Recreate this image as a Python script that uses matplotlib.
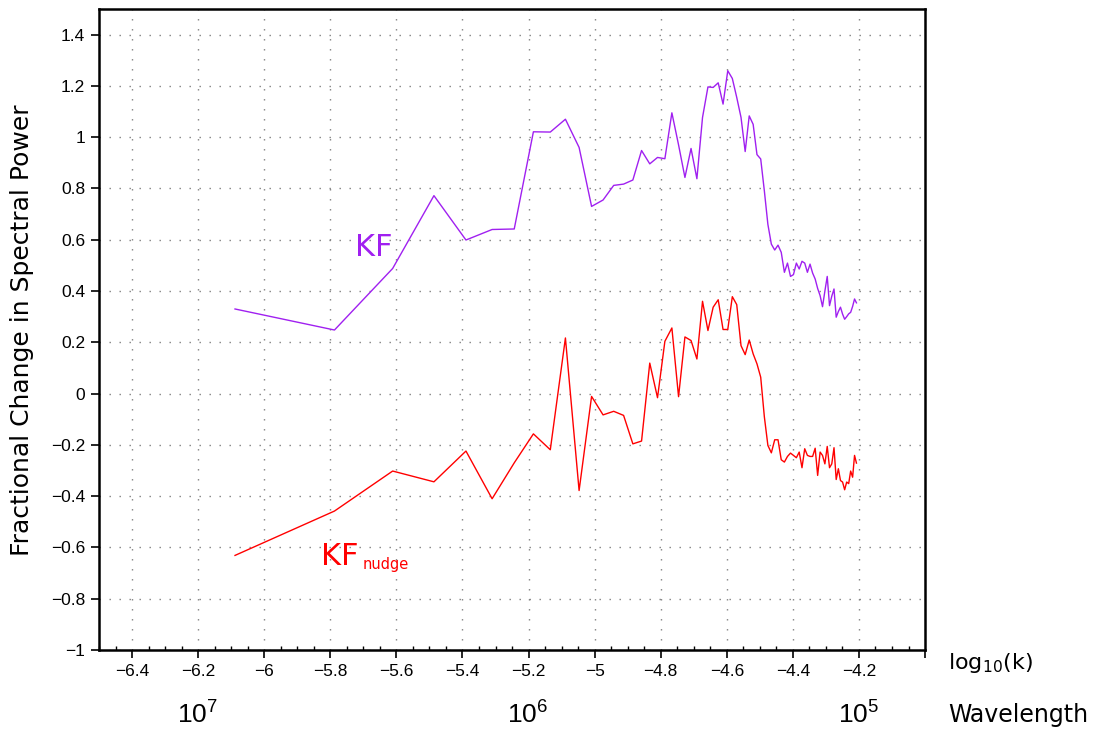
import numpy as np
import matplotlib
matplotlib.use("Agg")
import matplotlib.pyplot as plt
from matplotlib.ticker import MultipleLocator, FuncFormatter
import matplotlib.transforms as mtransforms

plt.rcParams['mathtext.default'] = 'regular'

# wavenumber index and log10 of the fundamental wavenumber (rad/m)
n = np.arange(1, 77)
logk1 = -6.0884
logk = logk1 + np.log10(n)

# fractional change in spectral power for each wavenumber
kf = [0.330, 0.248, 0.488, 0.772, 0.599, 0.640, 0.642, 1.021, 1.020, 1.070,
      0.960, 0.730, 0.755, 0.812, 0.817, 0.833, 0.948, 0.896, 0.921, 0.916,
      1.095, 0.970, 0.843, 0.956, 0.838, 1.077, 1.196, 1.194, 1.212, 1.129,
      1.259, 1.229, 1.155, 1.077, 0.944, 1.083, 1.050, 0.932, 0.915, 0.791,
      0.660, 0.583, 0.560, 0.579, 0.551, 0.473, 0.509, 0.457, 0.464, 0.509,
      0.486, 0.516, 0.509, 0.473, 0.505, 0.470, 0.447, 0.410, 0.382, 0.339,
      0.400, 0.457, 0.343, 0.380, 0.408, 0.298, 0.320, 0.337, 0.310, 0.290,
      0.300, 0.311, 0.317, 0.340, 0.369, 0.354]

kf_nudge = [-0.631, -0.458, -0.302, -0.344, -0.224, -0.410, -0.270, -0.157, -0.219, 0.217,
            -0.378, -0.011, -0.083, -0.069, -0.085, -0.196, -0.185, 0.119, -0.016, 0.204,
            0.256, -0.012, 0.221, 0.207, 0.135, 0.360, 0.246, 0.337, 0.366, 0.250,
            0.250, 0.378, 0.347, 0.187, 0.152, 0.209, 0.155, 0.116, 0.064, -0.090,
            -0.202, -0.231, -0.180, -0.180, -0.258, -0.267, -0.245, -0.232, -0.241, -0.250,
            -0.228, -0.289, -0.215, -0.241, -0.245, -0.245, -0.213, -0.319, -0.228, -0.241,
            -0.274, -0.206, -0.289, -0.274, -0.211, -0.335, -0.293, -0.339, -0.345, -0.375,
            -0.345, -0.351, -0.302, -0.326, -0.241, -0.271]

# wavelengths (m) marked under the axis
wavelengths = [1e7, 1e6, 1e5]
wavelength_labels = ['$10^7$', '$10^6$', '$10^5$']

fig = plt.figure(figsize=(10.99, 7.35), dpi=100)
ax = fig.add_axes([0.0901, 0.1156, 0.7516, 0.8722])

ax.plot(logk, kf, color='#A020F0', lw=1.0)
ax.plot(logk, kf_nudge, color='#FF0000', lw=1.0)

ax.set_xlim(-6.5, -4.0)
ax.set_ylim(-1.0, 1.5)

ax.xaxis.set_major_locator(MultipleLocator(0.2))
ax.xaxis.set_minor_locator(MultipleLocator(0.05))
ax.yaxis.set_major_locator(MultipleLocator(0.2))
fmt = FuncFormatter(lambda v, p: ('%g' % round(v, 3)).replace('-', '\u2212'))
ax.yaxis.set_major_formatter(fmt)

# no label for the -4 tick on the right edge
def xfmt(v, p):
    if v > -4.1:
        return ''
    return fmt(v, p)
ax.xaxis.set_major_formatter(FuncFormatter(xfmt))

ax.tick_params(which='major', direction='out', length=6, width=1.2,
               labelsize=12.5, top=False, right=False, pad=4)
ax.tick_params(axis='x', which='minor', direction='in', length=3, width=1.0,
               top=False)
for lab in ax.get_xticklabels() + ax.get_yticklabels():
    lab.set_family('Liberation Sans')

for s in ax.spines.values():
    s.set_linewidth(1.8)

ax.grid(True, which='major', color='#808080', lw=1.0, linestyle=(0, (1, 6.2)))

# curve labels
ax.text(-5.726, 0.538, 'KF', color='#A020F0', fontsize=22,
        family='DejaVu Sans', ha='left', va='baseline')
ax.text(-5.827, -0.670, 'KF', color='#FF0000', fontsize=22,
        family='DejaVu Sans', ha='left', va='baseline')
ax.text(-5.702, -0.683, 'nudge', color='#FF0000', fontsize=10.5,
        family='DejaVu Sans', ha='left', va='baseline')

trans = mtransforms.blended_transform_factory(ax.transData, ax.transAxes)
for lam, lab in zip(wavelengths, wavelength_labels):
    ax.text(np.log10(2 * np.pi / lam), -0.101, lab, transform=trans,
            ha='center', va='center', fontsize=19, family='Liberation Sans')

fig.text(0.020, 0.551, 'Fractional Change in Spectral Power', rotation=90,
         ha='center', va='center', fontsize=18)
fig.text(0.8626, 0.098, 'log$_{10}$(k)', ha='left', va='center', fontsize=16)
fig.text(0.8626, 0.027, 'Wavelength', ha='left', va='center', fontsize=17)

fig.savefig('out.png', dpi=100)
